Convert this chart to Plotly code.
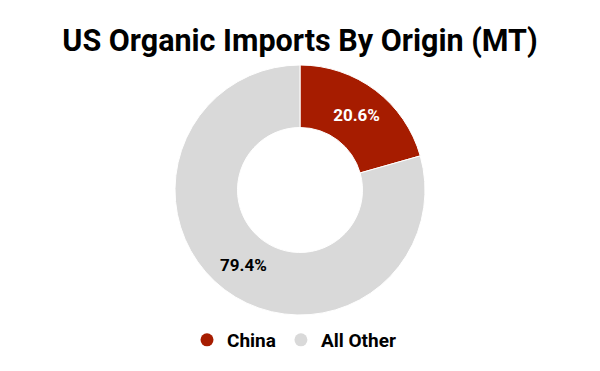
import plotly.graph_objects as go

labels = ["China", "All Other"]
values = [20.6, 79.4]
colors = ["#a61c00", "#d9d9d9"]
text_colors = ["#ffffff", "#000000"]

fig = go.Figure()
fig.add_trace(go.Pie(
    labels=labels,
    values=values,
    hole=0.5,
    sort=False,
    direction="clockwise",
    rotation=0,
    marker=dict(colors=colors, line=dict(color="#ffffff", width=1)),
    textinfo="percent",
    texttemplate="%{percent:.1%}",
    textposition="inside",
    insidetextorientation="horizontal",
    textfont=dict(family="Roboto", size=17, color=text_colors, weight="bold"),
    domain=dict(x=[0, 1], y=[56/371, 306/371]),
    hoverinfo="skip",
    showlegend=False,
))

# legend entries with circular markers
for lab, col in zip(labels, colors):
    fig.add_trace(go.Scatter(
        x=[None], y=[None], mode="markers", name=lab,
        marker=dict(symbol="circle", size=13, color=col),
        showlegend=True, hoverinfo="skip",
    ))

fig.update_layout(
    width=600, height=371,
    margin=dict(l=0, r=0, t=0, b=0),
    paper_bgcolor="#ffffff",
    plot_bgcolor="rgba(0,0,0,0)",
    xaxis=dict(visible=False),
    yaxis=dict(visible=False),
    title=dict(text="<b>US Organic Imports By Origin (MT)</b>", x=0.5, xanchor="center",
               y=1 - 40/371, yanchor="middle",
               font=dict(family="Roboto", size=30.5, color="#000000")),
    showlegend=True,
    legend=dict(orientation="h", x=0.5 - 6/600, xanchor="center", y=31/371, yanchor="middle",
                font=dict(family="Roboto", size=19, color="#000000", weight="bold"),
                itemwidth=30),
)

fig.write_html("out.html")
